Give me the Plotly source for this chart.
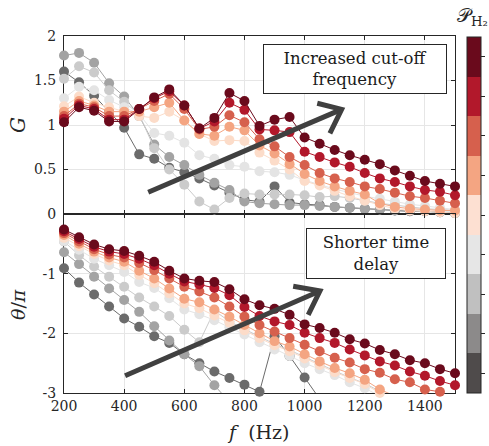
import plotly.graph_objects as go

freq = [200, 250, 300, 350, 400, 450, 500, 550, 600, 650, 700, 750, 800, 850,
        900, 950, 1000, 1050, 1100, 1150, 1200, 1250, 1300, 1350, 1400, 1450, 1500]

# Gain G, series ordered from lowest P_H2 (dark gray) to highest (dark red)
gain_0 = [1.60, 1.48, 1.33, 1.15, 0.97, 0.67, 0.62, 0.52, 0.47, 0.40, 0.32, 0.24, 0.16, 0.14,
          0.31, 0.13, 0.11, 0.10, 0.08, 0.07, 0.06, 0.05, 0.04, 0.03, 0.03, 0.02, 0.01]
gain_1 = [1.78, 1.81, 1.70, 1.47, 1.32, 1.10, 0.78, 0.64, 0.55, 0.44, 0.35, 0.27, 0.14, 0.12,
          0.11, 0.10, 0.10, 0.09, 0.08, 0.07, 0.06, 0.05, 0.04, 0.03, 0.03, 0.02, 0.02]
gain_2 = [1.52, 1.66, 1.59, 1.39, 1.26, 1.12, 0.74, 0.50, 0.33, 0.14, 0.05, 0.18, 0.23, 0.22,
          0.22, 0.22, 0.21, 0.19, 0.20, 0.18, 0.15, 0.12, 0.10, 0.08, 0.06, 0.05, 0.04]
gain_3 = [1.30, 1.43, 1.39, 1.28, 1.20, 1.12, 0.91, 0.88, 0.80, 0.66, 0.62, 0.55, 0.53, 0.48,
          0.47, 0.44, 0.38, 0.33, 0.28, 0.24, 0.20, 0.17, 0.14, 0.11, 0.09, 0.07, 0.05]
gain_4 = [1.21, 1.32, 1.25, 1.20, 1.15, 1.10, 1.08, 1.15, 1.05, 0.90, 0.82, 0.83, 0.82, 0.69,
          0.60, 0.50, 0.37, 0.32, 0.26, 0.20, 0.15, 0.10, 0.06, 0.04, 0.03, 0.02, 0.01]
gain_5 = [1.15, 1.27, 1.22, 1.15, 1.15, 1.15, 1.20, 1.25, 1.05, 0.90, 0.88, 0.98, 0.94, 0.77,
          0.68, 0.56, 0.45, 0.37, 0.31, 0.26, 0.22, 0.12, 0.08, 0.06, 0.05, 0.04, 0.04]
gain_6 = [1.10, 1.24, 1.20, 1.10, 1.10, 1.18, 1.27, 1.35, 1.18, 0.95, 0.98, 1.11, 1.03, 0.84,
          0.76, 0.64, 0.55, 0.46, 0.40, 0.36, 0.31, 0.28, 0.24, 0.20, 0.18, 0.15, 0.12]
gain_7 = [1.07, 1.22, 1.18, 1.06, 1.06, 1.18, 1.30, 1.38, 1.22, 0.96, 1.04, 1.25, 1.17, 0.95,
          0.94, 0.92, 0.70, 0.64, 0.58, 0.53, 0.46, 0.40, 0.36, 0.31, 0.27, 0.25, 0.21]
gain_8 = [1.03, 1.20, 1.16, 1.04, 1.04, 1.18, 1.31, 1.40, 1.22, 0.96, 1.08, 1.36, 1.27, 0.99,
          1.06, 1.09, 0.86, 0.79, 0.72, 0.66, 0.61, 0.56, 0.49, 0.43, 0.37, 0.34, 0.31]

# Phase theta/pi (None = beyond the plotted range)
phase_0 = [-0.91, -1.15, -1.35, -1.55, -1.75, -1.89, -2.05, -2.16, -2.35, -2.50, -2.64, -2.75, -2.86, -2.98,
           -2.05, -2.38, -2.74, -3.10, None, None, None, None, None, None, None, None, None]
phase_1 = [-0.64, -0.84, -1.05, -1.25, -1.44, -1.64, -1.88, -2.12, -2.35, -2.55, -2.87, -3.15, None, None,
           None, None, None, None, None, None, None, None, None, None, None, None, None]
phase_2 = [-0.46, -0.69, -0.88, -1.05, -1.22, -1.40, -1.55, -1.71, -1.94, -2.15, -1.62, -1.80, -1.93, -2.06,
           -2.18, -2.28, -2.40, -2.52, -2.63, -2.74, -2.84, -2.97, -3.08, None, None, None, None]
phase_3 = [-0.45, -0.60, -0.75, -0.86, -0.97, -1.14, -1.24, -1.41, -1.60, -1.68, -1.78, -1.90, -2.02, -2.15,
           -2.27, -2.38, -2.50, -2.60, -2.70, -2.82, -2.92, -3.05, None, None, None, None, None]
phase_4 = [-0.40, -0.54, -0.67, -0.78, -0.86, -1.02, -1.16, -1.33, -1.50, -1.58, -1.70, -1.82, -1.95, -2.08,
           -2.20, -2.30, -2.42, -2.53, -2.65, -2.75, -2.85, -3.00, -3.10, None, None, None, None]
phase_5 = [-0.35, -0.50, -0.63, -0.73, -0.80, -0.95, -1.08, -1.25, -1.42, -1.48, -1.60, -1.72, -1.86, -2.00,
           -2.13, -2.22, -2.35, -2.47, -2.58, -2.67, -2.78, -2.94, -3.05, None, None, None, None]
phase_6 = [-0.32, -0.46, -0.59, -0.68, -0.73, -0.82, -0.94, -1.08, -1.22, -1.30, -1.40, -1.55, -1.72, -1.86,
           -1.97, -2.08, -2.19, -2.30, -2.41, -2.49, -2.60, -2.66, -2.77, -2.82, -2.94, -2.98, -3.08]
phase_7 = [-0.29, -0.42, -0.55, -0.63, -0.67, -0.75, -0.86, -1.00, -1.13, -1.18, -1.24, -1.36, -1.56, -1.71,
           -1.80, -1.86, -1.99, -2.08, -2.16, -2.27, -2.37, -2.47, -2.54, -2.64, -2.71, -2.80, -2.87]
phase_8 = [-0.26, -0.39, -0.51, -0.59, -0.62, -0.70, -0.80, -0.95, -1.08, -1.12, -1.14, -1.26, -1.43, -1.53,
           -1.59, -1.69, -1.85, -1.91, -1.99, -2.10, -2.17, -2.28, -2.35, -2.45, -2.50, -2.60, -2.67]

gains = [gain_0, gain_1, gain_2, gain_3, gain_4, gain_5, gain_6, gain_7, gain_8]
phases = [phase_0, phase_1, phase_2, phase_3, phase_4, phase_5, phase_6, phase_7, phase_8]

series_colors = ['#6b6b6b', '#a3a3a3', '#cbcbcb', '#e4e4e4', '#fcdcc9',
                 '#f4a582', '#d6604d', '#b2182b', '#6a0a1c']
colorbar_colors = ['#4f4b4b', '#8c8a8a', '#c0c0c0', '#e6e6e6', '#fde0d2',
                   '#f4a582', '#d6604d', '#b2182b', '#6a0a1c']

x_ticks = [200, 400, 600, 800, 1000, 1200, 1400]
x_ticklabels = ['200', '400', '600', '800', '1000', '1200', '1400']
g_ticks = [0, 0.5, 1, 1.5, 2]
g_ticklabels = ['0', '0.5', '1', '1.5', '2']
p_ticks = [-3, -2, -1, 0]
p_ticklabels = ['-3', '-2', '-1', '']

SERIF = 'DejaVu Serif'
AX = '#262626'

# pixel geometry
L, R_MARGIN, T, B = 64, 0, 36, 53
W, H = 489, 446
PW = W - L - R_MARGIN          # paper width in px
PH = H - T - B                 # paper height in px
x_dom_end = (455 - L) / PW
split = (393 - 214) / PH


def px(xp):
    return (xp - L) / PW


def py(yp):
    return (H - B - yp) / PH


fig = go.Figure()

for g, c in zip(gains, series_colors):
    fig.add_trace(go.Scatter(x=freq, y=g, mode='lines+markers', xaxis='x', yaxis='y',
                             line=dict(color=c, width=1), marker=dict(size=10, color=c),
                             cliponaxis=False, showlegend=False, hoverinfo='skip'))

for p, c in zip(phases, series_colors):
    op = [0 if (v is None or v < -3.02) else 1 for v in p]
    fig.add_trace(go.Scatter(x=freq, y=p, mode='lines+markers', xaxis='x2', yaxis='y2',
                             line=dict(color=c, width=1), marker=dict(size=10, color=c, opacity=op),
                             cliponaxis=False, showlegend=False, hoverinfo='skip', connectgaps=False))

# colorbar
n = len(colorbar_colors)
cscale = []
for i, c in enumerate(colorbar_colors):
    cscale.append([i / n, c])
    cscale.append([(i + 1) / n, c])
fig.add_trace(go.Scatter(x=[200], y=[1], mode='markers', xaxis='x', yaxis='y',
                         marker=dict(size=1, opacity=0, color=[0], cmin=0, cmax=n,
                                     colorscale=cscale, showscale=True,
                                     colorbar=dict(thickness=14, thicknessmode='pixels',
                                                   len=356, lenmode='pixels',
                                                   x=px(467), xanchor='left', xpad=0,
                                                   y=py(215), yanchor='middle', ypad=0,
                                                   outlinewidth=1, outlinecolor=AX,
                                                   tickvals=[i + 0.5 for i in range(n)],
                                                   ticks='outside', ticklen=4, tickcolor=AX,
                                                   showticklabels=False)),
                         showlegend=False, hoverinfo='skip'))

axis_common = dict(showline=True, linecolor=AX, linewidth=1, mirror='ticks', ticks='inside',
                   ticklen=4, tickcolor=AX, showgrid=True, gridcolor='#e6e6e6', gridwidth=1,
                   zeroline=False, layer='below traces',
                   tickfont=dict(family=SERIF, size=14, color=AX))

fig.update_layout(
    width=W, height=H,
    margin=dict(l=L, r=R_MARGIN, t=T, b=B),
    paper_bgcolor='white', plot_bgcolor='white',
    font=dict(family=SERIF),
    xaxis=dict(domain=[0, x_dom_end], anchor='y', range=[200, 1500], tickvals=x_ticks,
               showticklabels=False, **axis_common),
    yaxis=dict(domain=[split, 1], anchor='x', range=[0, 2], tickvals=g_ticks,
               ticktext=g_ticklabels, ticklabelstandoff=4, **axis_common),
    xaxis2=dict(domain=[0, x_dom_end], anchor='y2', range=[200, 1500], tickvals=x_ticks,
                ticktext=x_ticklabels, **axis_common),
    yaxis2=dict(domain=[0, split], anchor='x2', range=[-3, 0], tickvals=p_ticks,
                ticktext=p_ticklabels, ticklabelstandoff=4, **axis_common),
)

arrow_col = '#404040'
fig.add_shape(type='line', xref='x', yref='y', x0=480, y0=0.244, x1=1123, y1=1.176,
              line=dict(color=arrow_col, width=5))
fig.add_shape(type='path', xref='x', yref='y',
              path='M 1042,1.244 L 1123,1.176 L 1084,0.907',
              line=dict(color=arrow_col, width=5))
fig.add_shape(type='line', xref='x2', yref='y2', x0=403, y0=-2.71, x1=1051, y1=-1.29,
              line=dict(color=arrow_col, width=5))
fig.add_shape(type='path', xref='x2', yref='y2',
              path='M 962,-1.21 L 1051,-1.29 L 1012,-1.69',
              line=dict(color=arrow_col, width=5))

fig.add_annotation(xref='x', yref='y', x=1169, y=1.624, text='Increased cut-off<br>frequency',
                   showarrow=False, width=182, height=48, borderpad=0, borderwidth=1,
                   xanchor='center', yanchor='middle',
                   bordercolor='#262626', bgcolor='white',
                   font=dict(family=SERIF, size=16.5, color='#1a1a1a'))
fig.add_annotation(xref='x2', yref='y2', x=1236, y=-0.655, text='Shorter time<br>delay',
                   showarrow=False, width=138, height=49, borderpad=0, borderwidth=1,
                   xanchor='center', yanchor='middle',
                   bordercolor='#262626', bgcolor='white',
                   font=dict(family=SERIF, size=16.5, color='#1a1a1a'))

fig.add_annotation(xref='paper', yref='paper', x=px(18), y=py(125),
                   xanchor='center', yanchor='middle',
                   text='<i>G</i>', showarrow=False, textangle=-90,
                   font=dict(family=SERIF, size=20, color=AX))
fig.add_annotation(xref='paper', yref='paper', x=px(18), y=py(305),
                   xanchor='center', yanchor='middle',
                   text='<i>θ</i>/<i>π</i>', showarrow=False, textangle=-90,
                   font=dict(family=SERIF, size=19, color=AX))
fig.add_annotation(xref='paper', yref='paper', x=px(258), y=py(432),
                   xanchor='center', yanchor='middle',
                   text='<i>f</i>  (Hz)', showarrow=False,
                   font=dict(family=SERIF, size=19, color=AX))
fig.add_annotation(xref='paper', yref='paper', x=px(472), y=py(17),
                   xanchor='center', yanchor='middle',
                   text='𝒫<sub>H₂</sub>', showarrow=False,
                   font=dict(family=SERIF, size=19, color=AX))

fig.write_html('out.html')
